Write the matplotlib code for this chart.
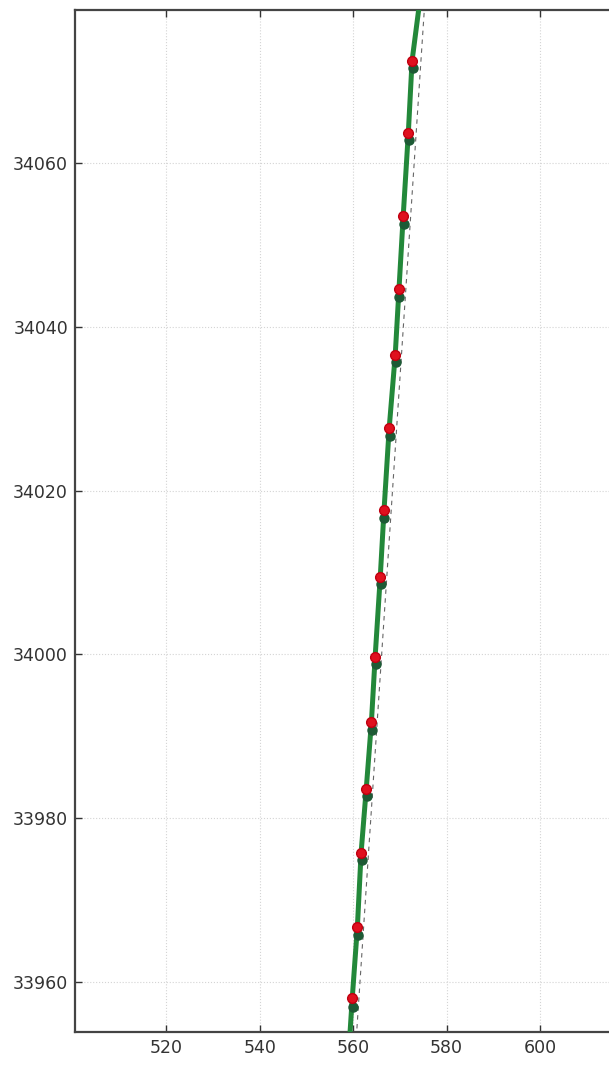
import matplotlib
matplotlib.use("Agg")
import matplotlib.pyplot as plt

# Track positions (easting, northing)
track_x = [558.9, 559.8, 560.9, 561.7, 562.8, 563.9, 564.7, 565.8, 566.6, 567.7,
           569.0, 569.8, 570.7, 571.8, 572.6, 574.3]
track_y = [33950.0, 33958.0, 33966.7, 33975.8, 33983.6, 33991.7, 33999.7, 34009.5,
           34017.6, 34027.6, 34036.6, 34044.6, 34053.5, 34063.7, 34072.5, 34080.0]

# Reference (straight) line
ref_x = [560.3, 575.6]
ref_y = [33950.0, 34082.0]

# Measured fixes
meas_x = [559.9, 561.0, 561.8, 562.9, 564.0, 564.8, 565.9, 566.7, 567.8, 569.1,
          569.9, 570.8, 571.9, 572.7]
meas_y = [33957.0, 33965.7, 33974.9, 33982.7, 33990.8, 33998.8, 34008.6, 34016.7,
          34026.7, 34035.7, 34043.7, 34052.6, 34062.8, 34071.6]

# Estimated positions
est_x = [559.8, 560.9, 561.7, 562.8, 563.9, 564.7, 565.8, 566.6, 567.7, 569.0,
         569.8, 570.7, 571.8, 572.6]
est_y = [33958.0, 33966.7, 33975.8, 33983.6, 33991.7, 33999.7, 34009.5, 34017.6,
         34027.6, 34036.6, 34044.6, 34053.5, 34063.7, 34072.5]

xticks = [520, 540, 560, 580, 600]
yticks = [33960, 33980, 34000, 34020, 34040, 34060]

fig = plt.figure(figsize=(6.09, 10.86), dpi=100)
ax = fig.add_axes([75 / 609, 54 / 1086, 561 / 609, 1022 / 1086])

ax.plot(track_x, track_y, color="#23883a", lw=3.6, solid_capstyle="butt", zorder=3)
ax.plot(ref_x, ref_y, color="#666666", lw=0.8, ls=(0, (4, 4)), zorder=2)
ax.plot(meas_x, meas_y, "o", color="#1d5a35", ms=6.5, mec="#1d5a35", zorder=4)
ax.plot(est_x, est_y, "o", color="#e0101e", ms=7, mec="#c00010", zorder=5)

ax.set_xlim(500.5, 620.5)
ax.set_ylim(33953.9, 34078.7)
ax.set_xticks(xticks)
ax.set_yticks(yticks)
ax.set_xticklabels([str(v) for v in xticks])
ax.set_yticklabels([str(v) for v in yticks])

ax.grid(True, color="#d4d4d4", ls=":", lw=0.8)
ax.tick_params(direction="in", length=5, width=1, top=True, right=True,
               labelsize=12.5, colors="#333333", pad=5)
for sp in ax.spines.values():
    sp.set_linewidth(1.6)
    sp.set_color("#444444")

fig.savefig("out.png", dpi=100)
